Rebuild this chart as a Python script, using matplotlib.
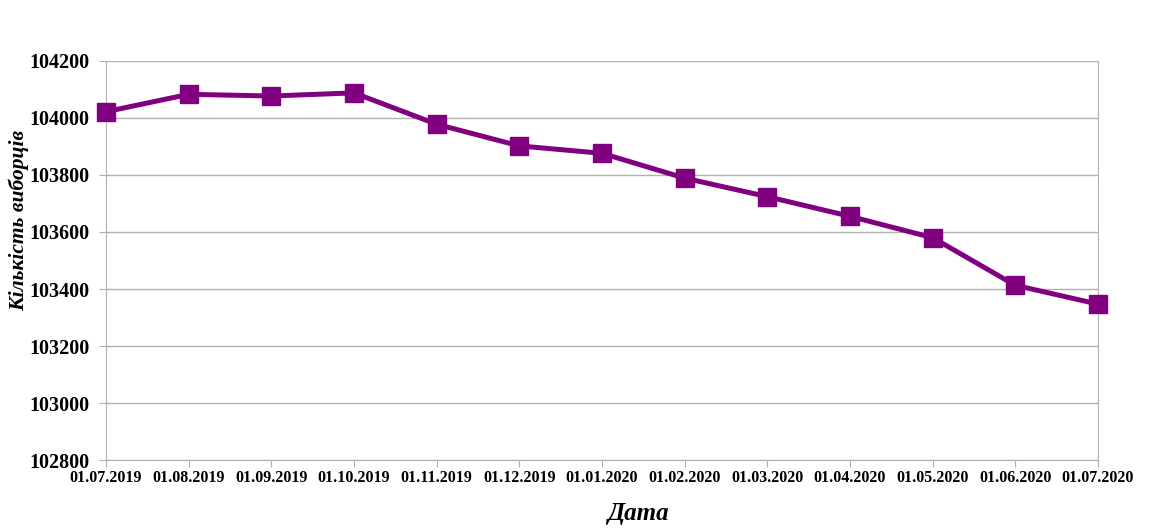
import matplotlib
matplotlib.use("Agg")
import matplotlib.pyplot as plt

# monthly sample size
DATES = ["01.07.2019", "01.08.2019", "01.09.2019", "01.10.2019", "01.11.2019",
         "01.12.2019", "01.01.2020", "01.02.2020", "01.03.2020", "01.04.2020",
         "01.05.2020", "01.06.2020", "01.07.2020"]
COUNTS = [104022, 104083, 104077, 104088, 103978, 103902, 103876,
          103789, 103724, 103655, 103580, 103413, 103347]
YTICKS = [102800, 103000, 103200, 103400, 103600, 103800, 104000, 104200]

COLOR = "#800080"
GRID = "#b0b0b0"

plt.rcParams["font.family"] = ["Liberation Serif", "DejaVu Serif"]

fig = plt.figure(figsize=(11.68, 5.30), dpi=100)
ax = fig.add_axes([0.0908, 0.132, 0.8492, 0.753])

x = list(range(len(DATES)))
ax.plot(x, COUNTS, color=COLOR, lw=3.6, marker="s", ms=13, zorder=3, clip_on=False)

ax.set_xlim(0, len(DATES) - 1)
ax.set_ylim(YTICKS[0], YTICKS[-1])
ax.set_yticks(YTICKS)
ax.set_xticks(x)
ax.set_xticklabels(DATES, fontsize=11.5, fontweight="bold")
ax.set_yticklabels([str(v) for v in YTICKS], fontsize=14.5, fontweight="bold")
ax.grid(True, axis="y", color=GRID, lw=1)
ax.set_axisbelow(True)
for s in ["left", "right", "bottom"]:
    ax.spines[s].set_color(GRID)
ax.spines["top"].set_visible(False)
ax.tick_params(axis="both", color=GRID, length=5, pad=2)
ax.tick_params(axis="y", pad=7)

ax.set_xlabel("Дата", fontsize=18, fontweight="bold", style="italic")
ax.xaxis.set_label_coords(0.537, -0.105)
ax.set_ylabel("Кількість виборців", fontsize=15.5, fontweight="bold", style="italic")
ax.yaxis.set_label_coords(-0.078, 0.6)

fig.savefig("out.png", dpi=100)
